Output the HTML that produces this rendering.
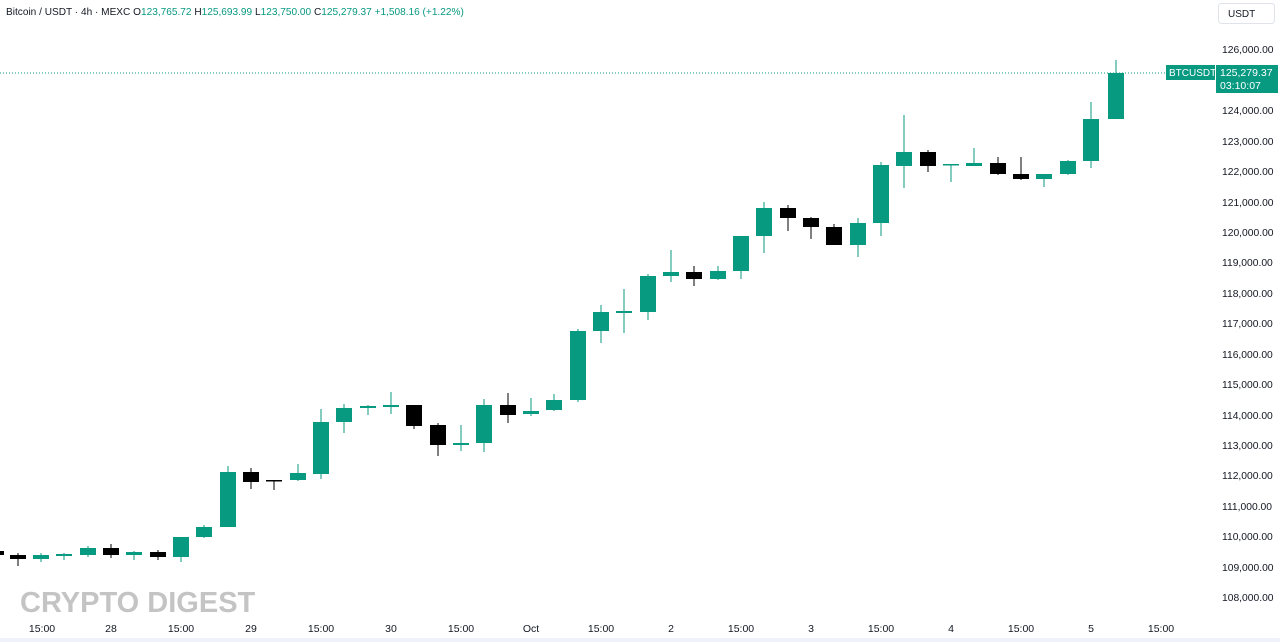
<!DOCTYPE html>
<html><head><meta charset="utf-8"><style>
html,body{margin:0;padding:0;background:#fff;width:1280px;height:642px;overflow:hidden;font-family:"Liberation Sans",sans-serif}
svg{display:block}
</style></head><body>
<svg width="1280" height="642" viewBox="0 0 1280 642" xmlns="http://www.w3.org/2000/svg" font-family="Liberation Sans, sans-serif">
<rect width="1280" height="642" fill="#fff"/>
<text x="6" y="15" font-size="10.1" fill="#131722">Bitcoin / USDT · 4h · MEXC <tspan fill="#131722">O</tspan><tspan fill="#089981">123,765.72</tspan> <tspan fill="#131722">H</tspan><tspan fill="#089981">125,693.99</tspan> <tspan fill="#131722">L</tspan><tspan fill="#089981">123,750.00</tspan> <tspan fill="#131722">C</tspan><tspan fill="#089981">125,279.37 +1,508.16 (+1.22%)</tspan></text>
<rect x="1218.5" y="3.5" width="56" height="20" rx="3" fill="#fff" stroke="#e0e3eb"/>
<text x="1228" y="17" font-size="10" fill="#131722">USDT</text>
<line x1="0" y1="73" x2="1166" y2="73" stroke="#089981" stroke-width="1" stroke-dasharray="1,2"/>
<g font-size="10.3" fill="#131722">
<text x="1222" y="53">126,000.00</text><text x="1222" y="114">124,000.00</text><text x="1222" y="145">123,000.00</text><text x="1222" y="175">122,000.00</text><text x="1222" y="206">121,000.00</text><text x="1222" y="236">120,000.00</text><text x="1222" y="266">119,000.00</text><text x="1222" y="297">118,000.00</text><text x="1222" y="327">117,000.00</text><text x="1222" y="358">116,000.00</text><text x="1222" y="388">115,000.00</text><text x="1222" y="419">114,000.00</text><text x="1222" y="449">113,000.00</text><text x="1222" y="479">112,000.00</text><text x="1222" y="510">111,000.00</text><text x="1222" y="540">110,000.00</text><text x="1222" y="571">109,000.00</text><text x="1222" y="601">108,000.00</text>
</g>
<rect x="1166" y="65" width="49" height="15" fill="#089981"/>
<text x="1169" y="76" font-size="10" fill="#fff">BTCUSDT</text>
<rect x="1216" y="65" width="62" height="28" fill="#089981"/>
<text x="1220" y="76" font-size="10.5" fill="#fff">125,279.37</text>
<text x="1220" y="89" font-size="10.5" fill="#fff">03:10:07</text>
<text x="20" y="612" font-size="29" font-weight="bold" fill="#c4c4c4">CRYPTO DIGEST</text>
<rect x="0" y="638" width="1280" height="4" fill="#f0f3fa"/>
<g font-size="10.5" fill="#131722" text-anchor="middle">
<text x="42" y="632">15:00</text><text x="111" y="632">28</text><text x="181" y="632">15:00</text><text x="251" y="632">29</text><text x="321" y="632">15:00</text><text x="391" y="632">30</text><text x="461" y="632">15:00</text><text x="531" y="632">Oct</text><text x="601" y="632">15:00</text><text x="671" y="632">2</text><text x="741" y="632">15:00</text><text x="811" y="632">3</text><text x="881" y="632">15:00</text><text x="951" y="632">4</text><text x="1021" y="632">15:00</text><text x="1091" y="632">5</text><text x="1161" y="632">15:00</text>
</g>
<g id="c">
<rect x="-4" y="551" width="8" height="4" fill="#000"/>
<g fill="#000" stroke="#000"><line x1="18" y1="553" x2="18" y2="566"/><rect x="10" y="555" width="16" height="4" stroke="none"/></g>
<g fill="#089981" stroke="#089981">
<line x1="41" y1="553" x2="41" y2="562"/><rect x="33" y="555" width="16" height="4" stroke="none"/>
<line x1="64" y1="553" x2="64" y2="560"/><rect x="56" y="554" width="16" height="2" stroke="none"/>
<line x1="88" y1="546" x2="88" y2="557"/><rect x="80" y="548" width="16" height="7" stroke="none"/>
</g>
<g fill="#000" stroke="#000"><line x1="111" y1="544" x2="111" y2="558"/><rect x="103" y="548" width="16" height="7" stroke="none"/></g>
<g fill="#089981" stroke="#089981"><line x1="134" y1="551" x2="134" y2="560"/><rect x="126" y="552" width="16" height="3" stroke="none"/></g>
<g fill="#000" stroke="#000"><line x1="158" y1="550" x2="158" y2="560"/><rect x="150" y="552" width="16" height="5" stroke="none"/></g>
<g fill="#089981" stroke="#089981">
<line x1="181" y1="537" x2="181" y2="562"/><rect x="173" y="537" width="16" height="20" stroke="none"/>
<line x1="204" y1="525" x2="204" y2="538"/><rect x="196" y="527" width="16" height="10" stroke="none"/>
<line x1="228" y1="466" x2="228" y2="527"/><rect x="220" y="472" width="16" height="55" stroke="none"/>
</g>
<g fill="#000" stroke="#000">
<line x1="251" y1="468" x2="251" y2="489"/><rect x="243" y="472" width="16" height="10" stroke="none"/>
<line x1="274" y1="480" x2="274" y2="490"/><rect x="266" y="480" width="16" height="1.5" stroke="none"/>
</g>
<g fill="#089981" stroke="#089981">
<line x1="298" y1="464" x2="298" y2="481"/><rect x="290" y="473" width="16" height="7" stroke="none"/>
<line x1="321" y1="409" x2="321" y2="479"/><rect x="313" y="422" width="16" height="52" stroke="none"/>
<line x1="344" y1="404" x2="344" y2="433"/><rect x="336" y="408" width="16" height="14" stroke="none"/>
<line x1="368" y1="405" x2="368" y2="415"/><rect x="360" y="406" width="16" height="2" stroke="none"/>
<line x1="391" y1="392" x2="391" y2="414"/><rect x="383" y="405" width="16" height="2" stroke="none"/>
</g>
<g fill="#000" stroke="#000">
<line x1="414" y1="405" x2="414" y2="429"/><rect x="406" y="405" width="16" height="21" stroke="none"/>
<line x1="438" y1="423" x2="438" y2="456"/><rect x="430" y="425" width="16" height="20" stroke="none"/>
</g>
<g fill="#089981" stroke="#089981">
<line x1="461" y1="425" x2="461" y2="451"/><rect x="453" y="443" width="16" height="2" stroke="none"/>
<line x1="484" y1="399" x2="484" y2="452"/><rect x="476" y="405" width="16" height="38" stroke="none"/>
</g>
<g fill="#000" stroke="#000"><line x1="508" y1="393" x2="508" y2="423"/><rect x="500" y="405" width="16" height="10" stroke="none"/></g>
<g fill="#089981" stroke="#089981">
<line x1="531" y1="398" x2="531" y2="416"/><rect x="523" y="411" width="16" height="3" stroke="none"/>
<line x1="554" y1="394" x2="554" y2="411"/><rect x="546" y="400" width="16" height="10" stroke="none"/>
<line x1="578" y1="329" x2="578" y2="402"/><rect x="570" y="331" width="16" height="69" stroke="none"/>
<line x1="601" y1="305" x2="601" y2="343"/><rect x="593" y="312" width="16" height="19" stroke="none"/>
<line x1="624" y1="289" x2="624" y2="333"/><rect x="616" y="311" width="16" height="2" stroke="none"/>
<line x1="648" y1="274" x2="648" y2="320"/><rect x="640" y="276" width="16" height="36" stroke="none"/>
<line x1="671" y1="250" x2="671" y2="282"/><rect x="663" y="272" width="16" height="4" stroke="none"/>
</g>
<g fill="#000" stroke="#000"><line x1="694" y1="266" x2="694" y2="286"/><rect x="686" y="272" width="16" height="7" stroke="none"/></g>
<g fill="#089981" stroke="#089981">
<line x1="718" y1="266" x2="718" y2="280"/><rect x="710" y="271" width="16" height="8" stroke="none"/>
<line x1="741" y1="236" x2="741" y2="279"/><rect x="733" y="236" width="16" height="35" stroke="none"/>
<line x1="764" y1="202" x2="764" y2="253"/><rect x="756" y="208" width="16" height="28" stroke="none"/>
</g>
<g fill="#000" stroke="#000">
<line x1="788" y1="205" x2="788" y2="231"/><rect x="780" y="208" width="16" height="10" stroke="none"/>
<line x1="811" y1="217" x2="811" y2="239"/><rect x="803" y="218" width="16" height="9" stroke="none"/>
<line x1="834" y1="224" x2="834" y2="245"/><rect x="826" y="227" width="16" height="18" stroke="none"/>
</g>
<g fill="#089981" stroke="#089981">
<line x1="858" y1="218" x2="858" y2="257"/><rect x="850" y="223" width="16" height="22" stroke="none"/>
<line x1="881" y1="162" x2="881" y2="236"/><rect x="873" y="165" width="16" height="58" stroke="none"/>
<line x1="904" y1="115" x2="904" y2="188"/><rect x="896" y="152" width="16" height="14" stroke="none"/>
</g>
<g fill="#000" stroke="#000"><line x1="928" y1="150" x2="928" y2="172"/><rect x="920" y="152" width="16" height="14" stroke="none"/></g>
<g fill="#089981" stroke="#089981">
<line x1="951" y1="164" x2="951" y2="182"/><rect x="943" y="164" width="16" height="1.5" stroke="none"/>
<line x1="974" y1="148" x2="974" y2="166"/><rect x="966" y="163" width="16" height="3" stroke="none"/>
</g>
<g fill="#000" stroke="#000">
<line x1="998" y1="157" x2="998" y2="175"/><rect x="990" y="163" width="16" height="11" stroke="none"/>
<line x1="1021" y1="157" x2="1021" y2="180"/><rect x="1013" y="174" width="16" height="5" stroke="none"/>
</g>
<g fill="#089981" stroke="#089981">
<line x1="1044" y1="174" x2="1044" y2="187"/><rect x="1036" y="174" width="16" height="5" stroke="none"/>
<line x1="1068" y1="160" x2="1068" y2="175"/><rect x="1060" y="161" width="16" height="13" stroke="none"/>
<line x1="1091" y1="102" x2="1091" y2="168"/><rect x="1083" y="119" width="16" height="42" stroke="none"/>
<line x1="1116" y1="60" x2="1116" y2="119"/><rect x="1108" y="73" width="16" height="46" stroke="none"/>
</g>
</g>
</svg>
</body></html>
